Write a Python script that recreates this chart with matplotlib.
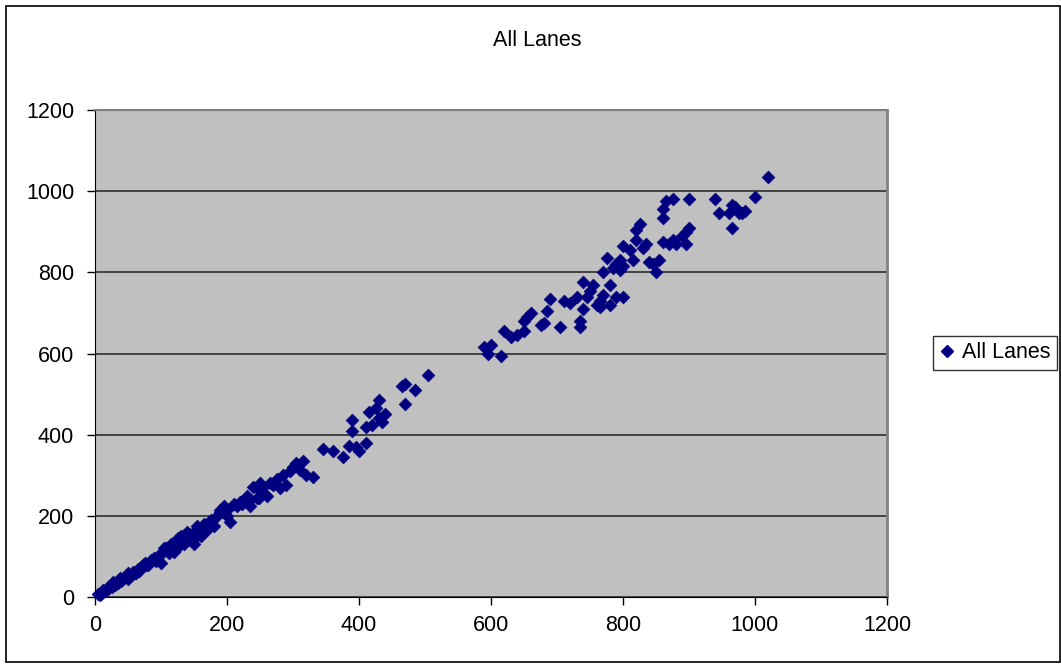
import matplotlib
matplotlib.use("Agg")
import matplotlib.pyplot as plt
from matplotlib.patches import Rectangle
from matplotlib.lines import Line2D

plt.rcParams['font.family'] = ['Liberation Sans', 'DejaVu Sans']

# Observed lane values (x) against reference values (y)
lane_x = [
    1020, 1000, 975, 970, 965, 960, 965, 980, 985, 945, 940,
    900, 900, 895, 890, 895, 880, 875, 875, 865, 860, 860, 860, 855, 850,
    840, 835, 830, 825, 820, 820, 815, 810, 800, 800, 795, 795, 790, 785,
    780, 775, 770, 770, 765, 760, 755, 750, 745, 740, 740, 735, 735, 730,
    720, 710, 690, 685, 680, 675, 660, 655, 650, 650, 640, 630, 620, 615,
    600, 595, 590, 800, 790, 780, 870, 845, 765, 705,
    505, 485, 470, 465, 470, 430, 430, 425, 420, 415, 410, 410, 400, 395,
    390, 390, 375, 360, 345, 440, 435, 385,
    330, 320, 315, 305, 300, 295, 290, 285, 275, 270, 265, 255, 250, 250,
    245, 240, 235, 230, 225, 220, 215, 210, 205, 200, 200, 195, 190, 185,
    180, 175, 170, 165, 160, 155, 150, 150, 145, 140, 135, 130, 125, 120,
    115, 110, 105, 100, 100, 95, 90, 85, 80, 75, 70, 65, 60, 55, 50, 50,
    45, 40, 38, 35, 30, 28, 25, 20, 15, 10, 8, 12, 5,
    310, 280, 260, 248, 235, 222, 190, 172, 168, 158, 142, 128, 118, 108,
    92, 88, 72, 66, 58, 52, 42, 33, 22, 18, 62, 78, 112, 132, 148, 162,
]
lane_y = [
    1035, 985, 945, 960, 965, 945, 910, 945, 950, 945, 980,
    980, 910, 900, 890, 870, 870, 880, 980, 975, 955, 935, 875, 830, 800,
    825, 870, 860, 920, 905, 880, 830, 855, 865, 815, 830, 805, 820, 810,
    770, 835, 800, 745, 730, 720, 770, 755, 740, 710, 775, 680, 665, 740,
    725, 730, 735, 705, 675, 670, 700, 690, 680, 655, 645, 640, 655, 595,
    620, 600, 615, 740, 740, 720, 870, 820, 715, 665,
    548, 510, 525, 520, 475, 485, 440, 465, 425, 455, 420, 380, 360, 370,
    410, 435, 345, 360, 365, 450, 430, 372,
    295, 300, 335, 330, 320, 310, 275, 300, 290, 275, 280, 270, 260, 280,
    245, 270, 225, 250, 240, 235, 225, 230, 185, 215, 200, 225, 210, 200,
    175, 190, 165, 180, 150, 175, 130, 160, 150, 160, 130, 150, 145, 110,
    130, 115, 120, 85, 105, 100, 95, 90, 80, 85, 75, 70, 60, 55, 45, 60,
    50, 40, 48, 35, 30, 38, 25, 20, 15, 10, 5, 18, 8,
    312, 268, 250, 244, 238, 230, 214, 185, 172, 160, 155, 125, 118, 120,
    88, 92, 78, 65, 62, 50, 44, 36, 26, 22, 58, 80, 108, 138, 140, 165,
]
axis_ticks = [0, 200, 400, 600, 800, 1000, 1200]
series_name = "All Lanes"

W, H = 1061, 666
fig = plt.figure(figsize=(W / 100, H / 100), dpi=100)
fig.patch.set_facecolor("white")

# outer chart frame
fig.patches.append(Rectangle((6 / W, 4 / H), (1054) / W, (656) / H,
                             transform=fig.transFigure, fill=False,
                             edgecolor="black", linewidth=1.2))

ax = fig.add_axes([95 / W, (H - 597) / H, 792 / W, 487 / H])
ax.set_facecolor("#C0C0C0")
ax.scatter(lane_x, lane_y, marker="D", s=42, color="#000080",
           edgecolors="#000080", linewidths=0.5, zorder=3, clip_on=False)

ax.set_xlim(0, 1200)
ax.set_ylim(0, 1200)
ax.set_xticks(axis_ticks)
ax.set_yticks(axis_ticks)
ax.set_xticklabels([str(t) for t in axis_ticks])
ax.set_yticklabels([str(t) for t in axis_ticks])
ax.tick_params(axis="both", direction="out", length=6, width=1,
               labelsize=15.5, colors="black")
ax.tick_params(axis="x", pad=7)
ax.tick_params(axis="y", pad=9)

ax.yaxis.grid(True, color="#202020", linewidth=1.1)
ax.set_axisbelow(True)
ax.spines["left"].set_color("black")
ax.spines["bottom"].set_color("black")
ax.spines["top"].set_color("#808080")
ax.spines["right"].set_color("#808080")
ax.spines["top"].set_linewidth(1.5)
ax.spines["right"].set_linewidth(2)

fig.text(537 / W, 1 - 40 / H, series_name, ha="center", va="center",
         fontsize=15.5)

handle = Line2D([], [], linestyle="none", marker="D", markersize=6.5,
                color="#000080")
leg = fig.legend([handle], [series_name], loc="center left",
                 bbox_to_anchor=(933 / W, 1 - 353 / H), fontsize=15.5,
                 frameon=True, fancybox=False, borderpad=0.3,
                 handlelength=0.7, handletextpad=0.35, borderaxespad=0)
leg.get_frame().set_edgecolor("black")
leg.get_frame().set_linewidth(1.0)

fig.savefig("out.png", dpi=100)
